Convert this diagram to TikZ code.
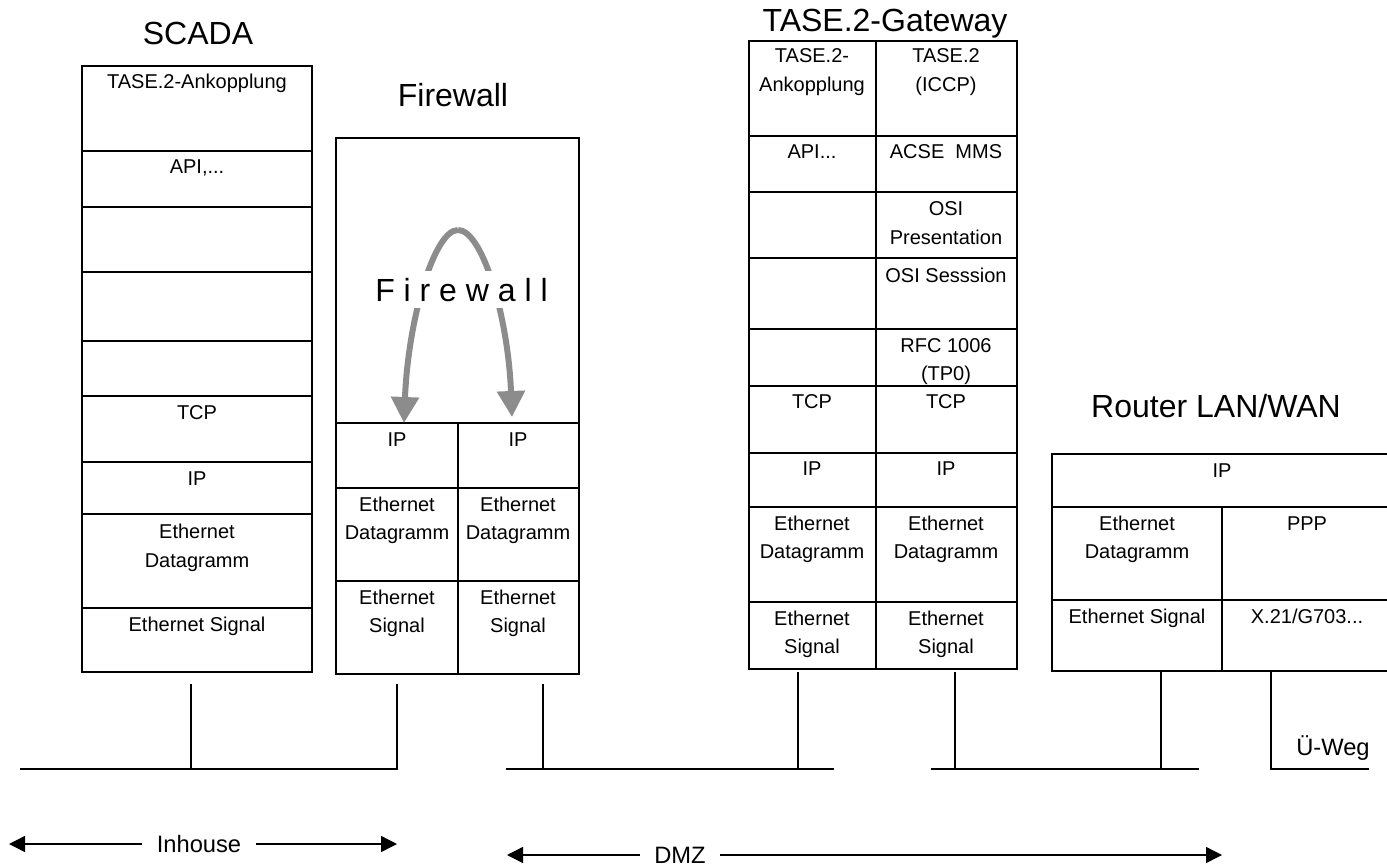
\documentclass[tikz,border=0pt]{standalone}
\usepackage{fontspec}
\setmainfont{Liberation Sans}
\usetikzlibrary{arrows.meta}
\definecolor{arcgrey}{HTML}{8C8C8C}
\tikzset{
  stackcell/.style={draw=black,line width=1.7pt,inner sep=0pt,outer sep=0pt,anchor=north west},
  lab/.style={anchor=base,inner sep=0pt,font=\fontsize{20}{24}\selectfont},
  biglab/.style={anchor=base,inner sep=0pt,font=\fontsize{32}{38}\selectfont},
  midlab/.style={anchor=base,inner sep=0pt,font=\fontsize{23.7}{28}\selectfont},
  wire/.style={line width=1.4pt,black},
  spanL/.style={line width=1.4pt,black,{Triangle[length=16pt,width=16pt]}-},
  spanR/.style={line width=1.4pt,black,-{Triangle[length=16pt,width=16pt]}},
  hop/.style={line width=6pt,arcgrey,-{Triangle[length=26pt,width=27pt]}}
}
\newcommand{\cellrect}[5]{%
  \pgfmathsetlengthmacro{\cw}{(#4-#2)*1pt}%
  \pgfmathsetlengthmacro{\ch}{(#5-#3)*1pt}%
  \node[stackcell,minimum width=\cw,minimum height=\ch] (#1) at (#2,#3) {};}
\begin{document}
\begin{tikzpicture}[x=1pt,y=-1pt]
\useasboundingbox[fill=white] (0,0) rectangle (1387,864);
% SCADA
\cellrect{s1}{82}{66}{312}{151}
\cellrect{s2}{82}{151}{312}{207}
\cellrect{s3}{82}{207}{312}{272}
\cellrect{s4}{82}{272}{312}{341}
\cellrect{s5}{82}{341}{312}{396}
\cellrect{s6}{82}{396}{312}{462}
\cellrect{s7}{82}{462}{312}{514}
\cellrect{s8}{82}{514}{312}{608}
\cellrect{s9}{82}{608}{312}{672}
% Firewall
\cellrect{f0}{336}{138}{579}{423}
\cellrect{f1}{336}{423}{458}{488}
\cellrect{f2}{458}{423}{579}{488}
\cellrect{f3}{336}{488}{458}{581}
\cellrect{f4}{458}{488}{579}{581}
\cellrect{f5}{336}{581}{458}{674}
\cellrect{f6}{458}{581}{579}{674}
% Gateway
\cellrect{g1}{749}{41}{876}{136}
\cellrect{h1}{876}{41}{1017}{136}
\cellrect{g2}{749}{136}{876}{192}
\cellrect{h2}{876}{136}{1017}{192}
\cellrect{g3}{749}{192}{876}{258}
\cellrect{h3}{876}{192}{1017}{258}
\cellrect{g4}{749}{258}{876}{329}
\cellrect{h4}{876}{258}{1017}{329}
\cellrect{g5}{749}{329}{876}{386}
\cellrect{h5}{876}{329}{1017}{386}
\cellrect{g6}{749}{386}{876}{453}
\cellrect{h6}{876}{386}{1017}{453}
\cellrect{g7}{749}{453}{876}{507}
\cellrect{h7}{876}{453}{1017}{507}
\cellrect{g8}{749}{507}{876}{602}
\cellrect{h8}{876}{507}{1017}{602}
\cellrect{g9}{749}{602}{876}{669}
\cellrect{h9}{876}{602}{1017}{669}
% Router
\cellrect{r1}{1052}{454}{1392}{507}
\cellrect{r2}{1052}{507}{1222}{600}
\cellrect{r3}{1222}{507}{1392}{600}
\cellrect{r4}{1052}{600}{1222}{671}
\cellrect{r5}{1222}{600}{1392}{671}
% Titles
\node[biglab] (tscada) at (198,45) {SCADA};
\node[biglab] (tfire) at (453,107) {Firewall};
\node[biglab] (tgate) at (885,32) {TASE.2-Gateway};
\node[biglab] (trouter) at (1216,417) {Router LAN/WAN};
% SCADA text
\node[lab] (ls1) at (197,89) {TASE.2-Ankopplung};
\node[lab] (ls2) at (197,174) {API,...};
\node[lab] (ls6) at (197,419) {TCP};
\node[lab] (ls7) at (197,485) {IP};
\node[lab] (ls8a) at (197,538) {Ethernet};
\node[lab] (ls8b) at (197,567) {Datagramm};
\node[lab] (ls9) at (197,631) {Ethernet Signal};
% Firewall text
\node[lab] (lf1) at (397,446) {IP};
\node[lab] (lf2) at (518,446) {IP};
\node[lab] (lf3a) at (397,511) {Ethernet};
\node[lab] (lf3b) at (397,539) {Datagramm};
\node[lab] (lf4a) at (518,511) {Ethernet};
\node[lab] (lf4b) at (518,539) {Datagramm};
\node[lab] (lf5a) at (397,604) {Ethernet};
\node[lab] (lf5b) at (397,632) {Signal};
\node[lab] (lf6a) at (518,604) {Ethernet};
\node[lab] (lf6b) at (518,632) {Signal};
% Gateway text
\node[lab] (lg1a) at (812,63) {TASE.2-};
\node[lab] (lg1b) at (812,92) {Ankopplung};
\node[lab] (lh1a) at (946,63) {TASE.2};
\node[lab] (lh1b) at (946,92) {(ICCP)};
\node[lab] (lg2) at (812,159) {API...};
\node[lab] (lh2) at (946,159) {ACSE\ \ MMS};
\node[lab] (lh3a) at (946,215) {OSI};
\node[lab] (lh3b) at (946,244) {Presentation};
\node[lab] (lh4) at (946,282) {OSI Sesssion};
\node[lab] (lh5a) at (946,352) {RFC 1006};
\node[lab] (lh5b) at (946,380) {(TP0)};
\node[lab] (lg6) at (812,408) {TCP};
\node[lab] (lh6) at (946,408) {TCP};
\node[lab] (lg7) at (812,475) {IP};
\node[lab] (lh7) at (946,475) {IP};
\node[lab] (lg8a) at (812,530) {Ethernet};
\node[lab] (lg8b) at (812,558) {Datagramm};
\node[lab] (lh8a) at (946,530) {Ethernet};
\node[lab] (lh8b) at (946,558) {Datagramm};
\node[lab] (lg9a) at (812,625) {Ethernet};
\node[lab] (lg9b) at (812,653) {Signal};
\node[lab] (lh9a) at (946,625) {Ethernet};
\node[lab] (lh9b) at (946,653) {Signal};
% Router text
\node[lab] (lr1) at (1222,477) {IP};
\node[lab] (lr2a) at (1137,530) {Ethernet};
\node[lab] (lr2b) at (1137,558) {Datagramm};
\node[lab] (lr3) at (1307,530) {PPP};
\node[lab] (lr4) at (1137,623) {Ethernet Signal};
\node[lab] (lr5) at (1307,623) {X.21/G703...};
% Firewall hop arcs
\coordinate (apex) at (458,230);
\coordinate (tipL) at (404,423);
\coordinate (tipR) at (512,417);
\draw[hop] (apex) .. controls (434,230) and (408,320) .. (tipL);
\draw[hop] (apex) .. controls (482,230) and (508,315) .. (tipR);
\node[biglab,fill=white,inner ysep=7pt,inner xsep=0pt] (fwtext) at (461.5,301) {F i r e w a l l};
% Network wires
\coordinate (busAl) at (20,769);
\coordinate (busAr) at (397,769);
\coordinate (busAs) at (191,769);
\coordinate (topAs) at (191,684);
\coordinate (topAf) at (397,684);
\coordinate (busBl) at (506,769);
\coordinate (busBr) at (834,769);
\coordinate (busBf) at (543,769);
\coordinate (busBg) at (798,769);
\coordinate (topBf) at (543,684);
\coordinate (topBg) at (798,672);
\coordinate (busCl) at (931,769);
\coordinate (busCr) at (1199,769);
\coordinate (busCh) at (955,769);
\coordinate (busCs) at (1161,769);
\coordinate (topCh) at (955,672);
\coordinate (topCs) at (1161,672);
\coordinate (topU) at (1271,672);
\coordinate (cornU) at (1271,769);
\coordinate (endU) at (1369,769);
\draw[wire] (busAl) -- (busAr) -- (topAf);
\draw[wire] (topAs) -- (busAs);
\draw[wire] (busBl) -- (busBr);
\draw[wire] (topBf) -- (busBf);
\draw[wire] (topBg) -- (busBg);
\draw[wire] (busCl) -- (busCr);
\draw[wire] (topCh) -- (busCh);
\draw[wire] (topCs) -- (busCs);
\draw[wire] (topU) -- (cornU) -- (endU);
\node[midlab] (luweg) at (1333,755) {Ü-Weg};
% Spans
\node[midlab] (linh) at (199,852) {Inhouse};
\node[midlab] (ldmz) at (680,863) {DMZ};
\coordinate (inhL) at (9,844);
\coordinate (inhLe) at (142,844);
\coordinate (inhRs) at (256,844);
\coordinate (inhR) at (397,844);
\coordinate (dmzL) at (507,855);
\coordinate (dmzLe) at (640,855);
\coordinate (dmzRs) at (720,855);
\coordinate (dmzR) at (1222,855);
\draw[spanL] (inhL) -- (inhLe);
\draw[spanR] (inhRs) -- (inhR);
\draw[spanL] (dmzL) -- (dmzLe);
\draw[spanR] (dmzRs) -- (dmzR);
\end{tikzpicture}
\end{document}
